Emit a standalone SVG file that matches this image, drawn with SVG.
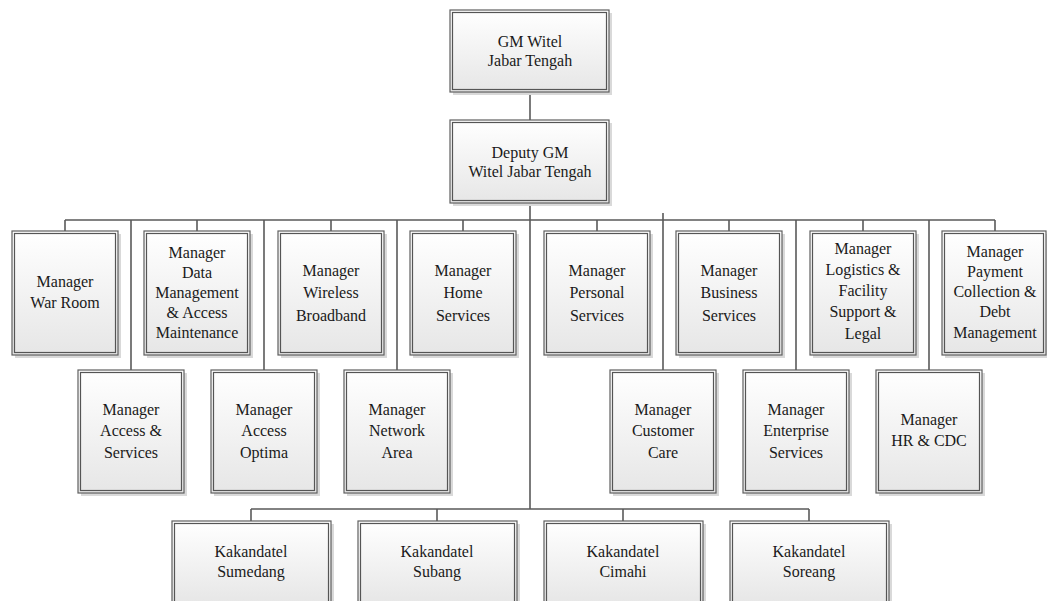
<svg xmlns="http://www.w3.org/2000/svg" width="1047" height="601" viewBox="0 0 1047 601">
<defs>
<linearGradient id="fillg" x1="0" y1="0" x2="0" y2="1">
<stop offset="0" stop-color="#ffffff"/>
<stop offset="1" stop-color="#e6e6e6"/>
</linearGradient>
<style>
.sh{fill:#d9d9d9;stroke:none}
.out{fill:url(#fillg);stroke:#5f5f5f;stroke-width:1.2}
.in{fill:none;stroke:#555555;stroke-width:1.2}
.t{font-family:"Liberation Serif","Times New Roman",serif;font-size:16px;fill:#1a1a1a;text-anchor:middle}
.c{fill:none;stroke:#5a5a5a;stroke-width:1.6}
</style>
</defs>
<rect width="1047" height="601" fill="#ffffff"/>
<g id="connectors">
<path class="c" d="M530,92V120M530,203V509M65,220H995"/>
<path class="c" d="M65,220V231M197,220V231M331,220V231M463,220V231M597,220V231M729,220V231M863,220V231M995,220V231"/>
<path class="c" d="M131,220V370M264,220V370M397,220V370M663,213V370M796,220V370M929,220V370"/>
<path class="c" d="M251,509H809M251,509V521M437,509V521M623,509V521M809,509V521"/>
</g>
<g id="gm">
<rect class="sh" x="453" y="13" width="159" height="82"/>
<rect class="out" x="450" y="10" width="159" height="82"/>
<rect class="in" x="452.5" y="12.5" width="154" height="77"/>
<text class="t" x="530" y="47">GM Witel</text>
<text class="t" x="530" y="66">Jabar Tengah</text>
</g>
<g id="deputy">
<rect class="sh" x="453" y="123" width="159" height="83"/>
<rect class="out" x="450" y="120" width="159" height="83"/>
<rect class="in" x="452.5" y="122.5" width="154" height="78"/>
<text class="t" x="530" y="158">Deputy GM</text>
<text class="t" x="530" y="177">Witel Jabar Tengah</text>
</g>
<g id="war-room">
<rect class="sh" x="15" y="234" width="106" height="124"/>
<rect class="out" x="12" y="231" width="106" height="124"/>
<rect class="in" x="14.5" y="233.5" width="101" height="119"/>
<text class="t" x="65" y="287">Manager</text>
<text class="t" x="65" y="308">War Room</text>
</g>
<g id="data-management">
<rect class="sh" x="147" y="234" width="106" height="124"/>
<rect class="out" x="144" y="231" width="106" height="124"/>
<rect class="in" x="146.5" y="233.5" width="101" height="119"/>
<text class="t" x="197" y="258">Manager</text>
<text class="t" x="197" y="278">Data</text>
<text class="t" x="197" y="298">Management</text>
<text class="t" x="197" y="318">&amp; Access</text>
<text class="t" x="197" y="338">Maintenance</text>
</g>
<g id="wireless-broadband">
<rect class="sh" x="281" y="234" width="106" height="124"/>
<rect class="out" x="278" y="231" width="106" height="124"/>
<rect class="in" x="280.5" y="233.5" width="101" height="119"/>
<text class="t" x="331" y="276">Manager</text>
<text class="t" x="331" y="298">Wireless</text>
<text class="t" x="331" y="321">Broadband</text>
</g>
<g id="home-services">
<rect class="sh" x="413" y="234" width="106" height="124"/>
<rect class="out" x="410" y="231" width="106" height="124"/>
<rect class="in" x="412.5" y="233.5" width="101" height="119"/>
<text class="t" x="463" y="276">Manager</text>
<text class="t" x="463" y="298">Home</text>
<text class="t" x="463" y="321">Services</text>
</g>
<g id="personal-services">
<rect class="sh" x="547" y="234" width="106" height="124"/>
<rect class="out" x="544" y="231" width="106" height="124"/>
<rect class="in" x="546.5" y="233.5" width="101" height="119"/>
<text class="t" x="597" y="276">Manager</text>
<text class="t" x="597" y="298">Personal</text>
<text class="t" x="597" y="321">Services</text>
</g>
<g id="business-services">
<rect class="sh" x="679" y="234" width="106" height="124"/>
<rect class="out" x="676" y="231" width="106" height="124"/>
<rect class="in" x="678.5" y="233.5" width="101" height="119"/>
<text class="t" x="729" y="276">Manager</text>
<text class="t" x="729" y="298">Business</text>
<text class="t" x="729" y="321">Services</text>
</g>
<g id="logistics">
<rect class="sh" x="813" y="234" width="106" height="124"/>
<rect class="out" x="810" y="231" width="106" height="124"/>
<rect class="in" x="812.5" y="233.5" width="101" height="119"/>
<text class="t" x="863" y="254">Manager</text>
<text class="t" x="863" y="275">Logistics &amp;</text>
<text class="t" x="863" y="296">Facility</text>
<text class="t" x="863" y="317">Support &amp;</text>
<text class="t" x="863" y="339">Legal</text>
</g>
<g id="payment-collection">
<rect class="sh" x="945" y="234" width="105" height="124"/>
<rect class="out" x="942" y="231" width="104" height="124"/>
<rect class="in" x="944.5" y="233.5" width="99" height="119"/>
<text class="t" x="995" y="257">Manager</text>
<text class="t" x="995" y="277">Payment</text>
<text class="t" x="995" y="297">Collection &amp;</text>
<text class="t" x="995" y="317">Debt</text>
<text class="t" x="995" y="338">Management</text>
</g>
<g id="access-services">
<rect class="sh" x="81" y="373" width="106" height="123"/>
<rect class="out" x="78" y="370" width="106" height="123"/>
<rect class="in" x="80.5" y="372.5" width="101" height="118"/>
<text class="t" x="131" y="415">Manager</text>
<text class="t" x="131" y="436">Access &amp;</text>
<text class="t" x="131" y="458">Services</text>
</g>
<g id="access-optima">
<rect class="sh" x="214" y="373" width="106" height="123"/>
<rect class="out" x="211" y="370" width="106" height="123"/>
<rect class="in" x="213.5" y="372.5" width="101" height="118"/>
<text class="t" x="264" y="415">Manager</text>
<text class="t" x="264" y="436">Access</text>
<text class="t" x="264" y="458">Optima</text>
</g>
<g id="network-area">
<rect class="sh" x="347" y="373" width="106" height="123"/>
<rect class="out" x="344" y="370" width="106" height="123"/>
<rect class="in" x="346.5" y="372.5" width="101" height="118"/>
<text class="t" x="397" y="415">Manager</text>
<text class="t" x="397" y="436">Network</text>
<text class="t" x="397" y="458">Area</text>
</g>
<g id="customer-care">
<rect class="sh" x="613" y="373" width="106" height="123"/>
<rect class="out" x="610" y="370" width="106" height="123"/>
<rect class="in" x="612.5" y="372.5" width="101" height="118"/>
<text class="t" x="663" y="415">Manager</text>
<text class="t" x="663" y="436">Customer</text>
<text class="t" x="663" y="458">Care</text>
</g>
<g id="enterprise-services">
<rect class="sh" x="746" y="373" width="106" height="123"/>
<rect class="out" x="743" y="370" width="106" height="123"/>
<rect class="in" x="745.5" y="372.5" width="101" height="118"/>
<text class="t" x="796" y="415">Manager</text>
<text class="t" x="796" y="436">Enterprise</text>
<text class="t" x="796" y="458">Services</text>
</g>
<g id="hr-cdc">
<rect class="sh" x="879" y="373" width="106" height="123"/>
<rect class="out" x="876" y="370" width="106" height="123"/>
<rect class="in" x="878.5" y="372.5" width="101" height="118"/>
<text class="t" x="929" y="425">Manager</text>
<text class="t" x="929" y="446">HR &amp; CDC</text>
</g>
<g id="kakandatel-sumedang">
<rect class="sh" x="175" y="524" width="159" height="84"/>
<rect class="out" x="172" y="521" width="159" height="84"/>
<rect class="in" x="174.5" y="523.5" width="154" height="79"/>
<text class="t" x="251" y="557">Kakandatel</text>
<text class="t" x="251" y="577">Sumedang</text>
</g>
<g id="kakandatel-subang">
<rect class="sh" x="361" y="524" width="159" height="84"/>
<rect class="out" x="358" y="521" width="159" height="84"/>
<rect class="in" x="360.5" y="523.5" width="154" height="79"/>
<text class="t" x="437" y="557">Kakandatel</text>
<text class="t" x="437" y="577">Subang</text>
</g>
<g id="kakandatel-cimahi">
<rect class="sh" x="547" y="524" width="159" height="84"/>
<rect class="out" x="544" y="521" width="159" height="84"/>
<rect class="in" x="546.5" y="523.5" width="154" height="79"/>
<text class="t" x="623" y="557">Kakandatel</text>
<text class="t" x="623" y="577">Cimahi</text>
</g>
<g id="kakandatel-soreang">
<rect class="sh" x="733" y="524" width="159" height="84"/>
<rect class="out" x="730" y="521" width="159" height="84"/>
<rect class="in" x="732.5" y="523.5" width="154" height="79"/>
<text class="t" x="809" y="557">Kakandatel</text>
<text class="t" x="809" y="577">Soreang</text>
</g>
</svg>
